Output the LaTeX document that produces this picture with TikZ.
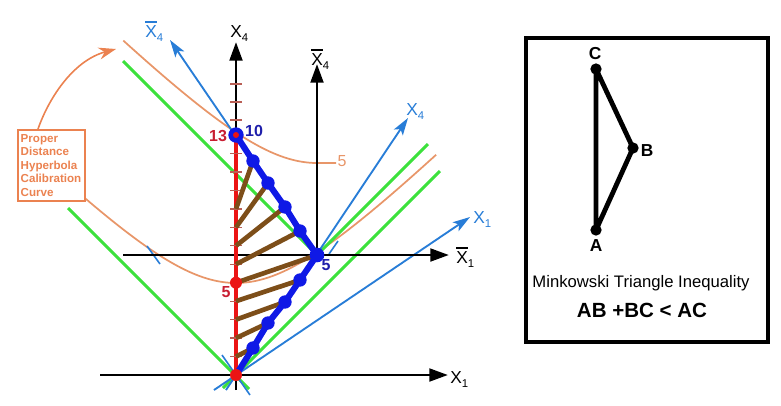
\documentclass[tikz,border=0pt]{standalone}
\usepackage{fontspec}
\setmainfont{Liberation Sans}
\usetikzlibrary{arrows.meta}
\definecolor{axblue}{RGB}{40,125,215}
\definecolor{zblue}{RGB}{15,25,230}
\definecolor{lgreen}{RGB}{60,225,60}
\definecolor{horange}{RGB}{232,150,105}
\definecolor{corange}{RGB}{235,130,80}
\definecolor{brn}{RGB}{125,78,25}
\definecolor{rd}{RGB}{235,20,20}
\definecolor{lblred}{RGB}{200,30,50}
\definecolor{lblblue}{RGB}{30,30,170}
\definecolor{tickc}{RGB}{185,95,85}
\newcommand\olX{\vbox{\hrule height 1.2pt\kern1.8pt\hbox{X}}}
\newcommand\subs[1]{\raisebox{-3.6pt}{\fontsize{8.5}{8.5}\selectfont #1}}
\begin{document}
\begin{tikzpicture}[x=0.75pt,y=-0.75pt,
  axis/.style={line width=2.2pt,-{Triangle[length=14pt,width=9.5pt]}},
  baxis/.style={axblue,line width=1.4pt,-{Stealth[length=13pt,width=8pt,inset=3pt]}},
  light/.style={lgreen,line width=2.2pt},
  hyp/.style={horange,line width=1.3pt},
  simul/.style={brn,line width=3.5pt},
  world/.style={zblue,line width=4.6pt,line join=round},
  bead/.style={circle,fill=zblue,inner sep=0pt,minimum size=10pt},
  rdot/.style={circle,fill=rd,inner sep=0pt,minimum size=9pt},
  xl/.style={font=\fontsize{13}{13}\selectfont,inner sep=0pt,anchor=base west},
  num/.style={font=\fontsize{12}{12}\selectfont\bfseries,inner sep=0pt},
  tri/.style={line width=3.6pt,line join=round},
  tdot/.style={circle,fill=black,inner sep=0pt,minimum size=8.5pt},
  tlab/.style={font=\fontsize{13}{13}\selectfont\bfseries,inner sep=0pt},
]
\useasboundingbox (0,0) rectangle (781,405);

% key points
\coordinate (O) at (236,375);
\coordinate (P1) at (253,348);
\coordinate (P2) at (268,323);
\coordinate (P3) at (285,302);
\coordinate (P4) at (300,280);
\coordinate (P5) at (317,255);
\coordinate (P6) at (300,231);
\coordinate (P7) at (285,207);
\coordinate (P8) at (268,183);
\coordinate (P9) at (253,161);
\coordinate (P10) at (236,135);
\foreach \k in {1,...,13} {\coordinate (T\k) at (236,{375-18.46*\k});}

% hyperbolas
\draw[hyp] plot[domain=-1.27:1.52,samples=80] ({236+92*sinh(\x)},{375-92*cosh(\x)});
\draw[hyp] plot[domain=-1.49:0,samples=60] ({317+92*sinh(\x)},{255-92*cosh(\x)}) -- (336,163);

% light lines
\coordinate (g1a) at (68,208);   \coordinate (g1b) at (249,389);
\coordinate (g2a) at (223,388);  \coordinate (g2b) at (440,171);
\coordinate (g3a) at (123,61);
\coordinate (g4b) at (428,144);
\draw[light] (g1a) -- (g1b);
\draw[light] (g2a) -- (g2b);
\draw[light] (g3a) -- (P5);
\draw[light] (P5) -- (g4b);

% blue axes
\coordinate (b1a) at (226,390); \coordinate (b1b) at (408,118);
\coordinate (b2a) at (214,390); \coordinate (b2b) at (470,217);
\coordinate (b3b) at (170,40);
\draw[baxis] (b1a) -- (b1b);
\draw[baxis] (b2a) -- (b2b);
\draw[baxis] (P5) -- (b3b);
\coordinate (s1a) at (222,355); \coordinate (s1b) at (250,395);
\draw[axblue,line width=1.2pt] (s1a) -- (s1b);
\coordinate (s2a) at (147,246); \coordinate (s2b) at (160,264);
\draw[axblue,line width=1.2pt] (s2a) -- (s2b);
\coordinate (s3a) at (338,241); \coordinate (s3b) at (329,254);
\draw[axblue,line width=1.2pt] (s3a) -- (s3b);

% black axes
\coordinate (x1a) at (100,375); \coordinate (x1b) at (448,375);
\coordinate (x4a) at (236,390); \coordinate (x4b) at (236,42);
\coordinate (y1a) at (123,255); \coordinate (y1b) at (449,255);
\coordinate (y4b) at (317,64);
\draw[axis] (x1a) -- (x1b);
\draw[axis] (x4a) -- (x4b);
\draw[axis] (y1a) -- (y1b);
\draw[axis] (P5) -- (y4b);

% red segment of the X4 axis and ticks
\draw[rd,line width=2.6pt] (O) -- (P10);
\foreach \k in {1,...,12} {\draw[tickc,line width=1pt] (230,{375-18.46*\k}) -- (242,{375-18.46*\k});}
\foreach \yy in {120,102,84} {\draw[tickc,line width=1pt] (230,\yy) -- (242,\yy);}

% brown lines
\foreach \k in {1,...,9} {\draw[simul] (T\k) -- (P\k);}

% blue world line
\draw[world] (O) -- (P1) -- (P2) -- (P3) -- (P4) -- (P5) -- (P6) -- (P7) -- (P8) -- (P9) -- (P10);
\foreach \i in {1,2,3,4,6,7,8,9} {\node[bead] (bead\i) at (P\i) {};}
\node[bead,minimum size=11pt] (apex) at (P5) {};
\node[bead,minimum size=11.5pt] (top) at (P10) {};
\node[circle,fill=rd,inner sep=0pt,minimum size=4.5pt] (topc) at (P10) {};
\node[rdot] (odot) at (O) {};
\node[rdot] (fdot) at (T5) {};

% numbers
\node[num,text=lblred] (n13) at (218,136) {13};
\node[num,text=lblblue] (n10) at (254,131) {10};
\node[num,text=lblred] (n5r) at (226,292) {5};
\node[num,text=lblblue] (n5b) at (326,265) {5};
\node[font=\fontsize{12}{12}\selectfont,inner sep=0pt,text=horange] (n5o) at (342,161) {5};

% axis labels
\node[xl,text=axblue] (lby4) at (145,37) {\olX\subs{4}};
\node[xl] (lx4) at (230,37) {X\subs{4}};
\node[xl] (lbx4) at (311,65) {\olX\subs{4}};
\node[xl,text=axblue] (lbx4r) at (406,115) {X\subs{4}};
\node[xl,text=axblue] (lbx1) at (473,223) {X\subs{1}};
\node[xl] (lby1) at (456,263) {\olX\subs{1}};
\node[xl] (lx1) at (450,383) {X\subs{1}};

% callout
\node[draw=corange,line width=1.3pt,text=corange,anchor=north west,
      minimum width=50.25pt,minimum height=53.25pt,text width=46pt,align=left,
      inner xsep=2pt,inner ysep=1pt,
      font=\fontsize{8.7}{10.1}\selectfont\bfseries] (callout) at (17,129)
      {Proper\\Distance\\Hyperbola\\Calibration\\Curve};
\coordinate (ctail) at (38,129);
\coordinate (chead) at (116,49);
\draw[corange,line width=1.2pt,-{Stealth[length=13pt,width=9pt]}]
  (ctail) .. controls (50,95) and (75,60) .. (chead);

% right panel
\node[draw,line width=3pt,minimum width=181.5pt,minimum height=228pt,inner sep=0pt] (panel) at (646.5,189.5) {};
\coordinate (A) at (596,230);
\coordinate (B) at (633,148);
\coordinate (C) at (596,69);
\draw[tri] (A) -- (C) -- (B) -- cycle;
\node[tdot] (dA) at (A) {};
\node[tdot] (dB) at (B) {};
\node[tdot] (dC) at (C) {};
\node[tlab] (lC) at (595,54) {C};
\node[tlab] (lB) at (647,151) {B};
\node[tlab] (lA) at (596,246) {A};
\node[anchor=base,inner sep=0pt,font=\fontsize{12.5}{12.5}\selectfont] (mti) at (641,287) {Minkowski Triangle Inequality};
\node[anchor=base,inner sep=0pt,font=\fontsize{15.4}{15.4}\selectfont\bfseries] (ineq) at (642,317) {AB +BC < AC};
\end{tikzpicture}
\end{document}
